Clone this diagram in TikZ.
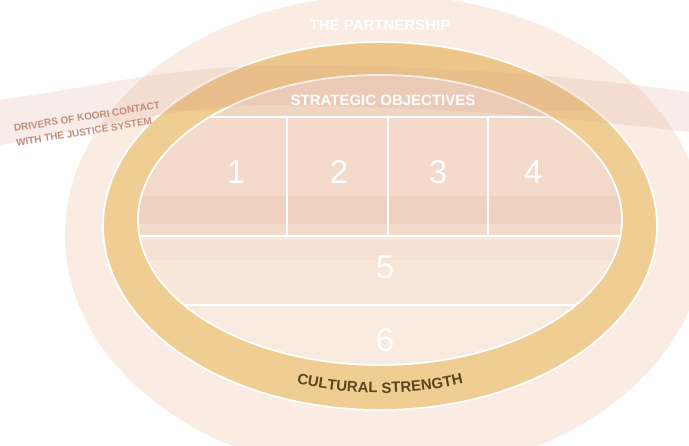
\documentclass[tikz,border=0pt]{standalone}
\usepackage{fontspec}
\setmainfont{Liberation Sans}
\usetikzlibrary{decorations.text}
\definecolor{palebg}{HTML}{FAECE2}
\definecolor{goldring}{HTML}{F0CD92}
\definecolor{goldtop}{HTML}{EAC084}
\definecolor{innerbase}{HTML}{F7E3D6}
\definecolor{cellrow}{HTML}{F3DACA}
\definecolor{headrow}{HTML}{F1D5C3}
\definecolor{rowfive}{HTML}{F8E6DA}
\definecolor{rowsix}{HTML}{F9EAE0}
\definecolor{ribbon}{HTML}{D9A18C}
\definecolor{drivertext}{HTML}{C48C7A}
\definecolor{culturetext}{HTML}{5A4620}
\tikzset{
  whiteline/.style={draw=white, line width=1.8pt},
  numlabel/.style={text=white, font=\fontsize{33}{36}\selectfont, inner sep=0pt},
  headlabel/.style={text=white, font=\bfseries\fontsize{15}{17}\selectfont, inner sep=0pt},
  driverlabel/.style={text=drivertext, font=\bfseries\fontsize{10}{14.5}\selectfont, inner sep=0pt, rotate=9, align=left},
}
\begin{document}
\begin{tikzpicture}[x=1pt,y=1pt]
\useasboundingbox (0,0) rectangle (689,446);
\fill[white] (0,0) rectangle (689,446);
\begin{scope}
\clip (0,0) rectangle (689,446);
% outer pale ellipse
\fill[palebg] (385,211) ellipse [x radius=320, y radius=240];
% gold ring
\fill[goldring] (380,220) ellipse [x radius=277, y radius=184];
\begin{scope}
\clip (380,220) ellipse [x radius=277, y radius=184];
\fill[goldtop, opacity=0.5] (0,335) rectangle (689,446);
\end{scope}
\draw[whiteline] (380,220) ellipse [x radius=277, y radius=184];
% inner region
\fill[innerbase] (380,226) ellipse [x radius=242, y radius=145];
\begin{scope}
\clip (380,226) ellipse [x radius=242, y radius=145];
\fill[headrow] (100,329) rectangle (660,380);
\fill[cellrow] (100,210) rectangle (660,329);
\fill[ribbon, opacity=0.14] (100,222) rectangle (660,250);
\fill[rowfive] (100,141) rectangle (660,210);
\fill[ribbon, opacity=0.08] (100,186) rectangle (660,206);
\fill[rowsix] (100,60) rectangle (660,141);
\coordinate (hA) at (100,329); \coordinate (hB) at (660,329);
\coordinate (mA) at (100,210); \coordinate (mB) at (660,210);
\coordinate (lA) at (100,141); \coordinate (lB) at (660,141);
\coordinate (v1t) at (287,329); \coordinate (v1b) at (287,210);
\coordinate (v2t) at (388,329); \coordinate (v2b) at (388,210);
\coordinate (v3t) at (488,329); \coordinate (v3b) at (488,210);
\draw[whiteline] (hA) -- (hB);
\draw[whiteline] (mA) -- (mB);
\draw[whiteline] (lA) -- (lB);
\draw[whiteline] (v1t) -- (v1b);
\draw[whiteline] (v2t) -- (v2b);
\draw[whiteline] (v3t) -- (v3b);
\end{scope}
\draw[whiteline] (380,226) ellipse [x radius=242, y radius=145];
% ribbon band
\fill[ribbon, opacity=0.2] (0,346) .. controls (110,362) and (170,378) .. (260,380)
  .. controls (420,382) and (560,372) .. (689,354) -- (689,314)
  .. controls (560,330) and (420,340) .. (260,341)
  .. controls (170,338) and (90,318) .. (0,301) -- cycle;
\end{scope}
% texts
\node[headlabel] (partner) at (380,421) {THE PARTNERSHIP};
\node[headlabel] (strat) at (383,346) {STRATEGIC OBJECTIVES};
\node[numlabel] (n1) at (236,274) {1};
\node[numlabel] (n2) at (339,274) {2};
\node[numlabel] (n3) at (438,274) {3};
\node[numlabel] (n4) at (533,274) {4};
\node[numlabel] (n5) at (385,179) {5};
\node[numlabel] (n6) at (385,106) {6};
\node[driverlabel] (drv) at (88,322) {DRIVERS OF KOORI CONTACT\\WITH THE JUSTICE SYSTEM};
% curved text
\path[decorate, decoration={text along path, text align=center,
  text={|\bfseries\fontsize{15}{18}\selectfont\color{culturetext}|CULTURAL STRENGTH}}]
  (380,224) ++(235:255 and 171) arc [start angle=235, end angle=305, x radius=255, y radius=171];
\end{tikzpicture}
\end{document}
